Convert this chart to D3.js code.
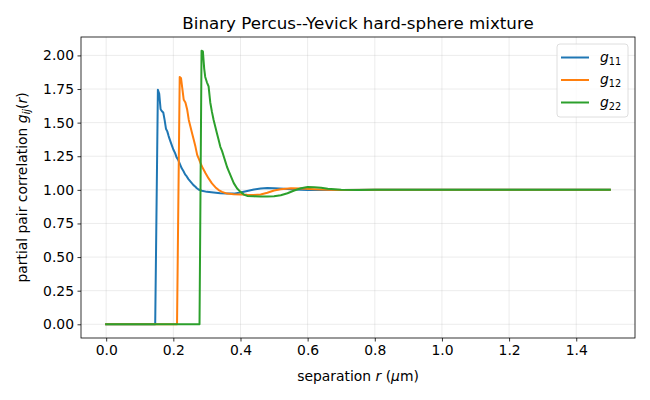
<!DOCTYPE html>
<html>
<head>
<meta charset="utf-8">
<title>Binary Percus-Yevick</title>
<script src="https://d3js.org/d3.v7.min.js"></script>
<style>
  body { margin: 0; background: #fff; }
  text { font-family: "DejaVu Sans", sans-serif; fill: #000; }
</style>
</head>
<body>
<div id="chart"></div>
<script>
// g11 (blue)
var r11 = [0, 0.146, 0.154, 0.158, 0.162, 0.166, 0.170, 0.174, 0.178, 0.182, 0.186, 0.190, 0.195, 0.200, 0.205, 0.210, 0.215, 0.220, 0.225, 0.230, 0.235, 0.240, 0.245, 0.250, 0.255, 0.260, 0.265, 0.270, 0.275, 0.285, 0.300, 0.320, 0.340, 0.360, 0.380, 0.400, 0.420, 0.440, 0.460, 0.480, 0.500, 0.530, 0.560, 0.600, 0.650, 0.700, 0.800, 1.000, 1.200, 1.500];
var g11 = [0, 0, 1.745, 1.715, 1.600, 1.585, 1.575, 1.520, 1.455, 1.435, 1.400, 1.370, 1.335, 1.300, 1.275, 1.240, 1.220, 1.190, 1.160, 1.140, 1.115, 1.100, 1.080, 1.065, 1.050, 1.035, 1.025, 1.012, 1.003, 0.993, 0.985, 0.980, 0.975, 0.972, 0.972, 0.980, 0.992, 1.003, 1.010, 1.013, 1.012, 1.008, 1.003, 0.999, 0.998, 0.999, 1.000, 1.000, 1.000, 1.000];

// g12 (orange)
var r12 = [0, 0.211, 0.219, 0.223, 0.227, 0.231, 0.236, 0.241, 0.246, 0.251, 0.256, 0.261, 0.266, 0.271, 0.276, 0.281, 0.288, 0.296, 0.305, 0.315, 0.325, 0.335, 0.345, 0.360, 0.380, 0.400, 0.420, 0.440, 0.460, 0.480, 0.500, 0.520, 0.550, 0.580, 0.620, 0.660, 0.700, 0.800, 1.000, 1.200, 1.500];
var g12 = [0, 0, 1.840, 1.830, 1.750, 1.670, 1.650, 1.600, 1.520, 1.470, 1.420, 1.370, 1.320, 1.260, 1.230, 1.198, 1.160, 1.123, 1.085, 1.048, 1.020, 0.998, 0.985, 0.972, 0.968, 0.966, 0.963, 0.962, 0.965, 0.978, 0.995, 1.005, 1.012, 1.010, 1.005, 1.001, 0.999, 1.000, 1.000, 1.000, 1.000];

// g22 (green)
var r22 = [0, 0.278, 0.284, 0.288, 0.292, 0.295, 0.300, 0.305, 0.310, 0.315, 0.320, 0.325, 0.330, 0.335, 0.340, 0.345, 0.350, 0.355, 0.360, 0.365, 0.370, 0.375, 0.380, 0.390, 0.400, 0.410, 0.420, 0.440, 0.460, 0.480, 0.500, 0.520, 0.540, 0.560, 0.580, 0.600, 0.620, 0.640, 0.660, 0.700, 0.750, 0.800, 1.000, 1.200, 1.500];
var g22 = [0, 0, 2.035, 2.030, 1.900, 1.840, 1.800, 1.770, 1.650, 1.580, 1.520, 1.470, 1.420, 1.370, 1.320, 1.290, 1.250, 1.210, 1.170, 1.140, 1.110, 1.080, 1.050, 1.010, 0.985, 0.965, 0.955, 0.952, 0.950, 0.950, 0.952, 0.960, 0.975, 0.995, 1.012, 1.022, 1.020, 1.015, 1.008, 1.001, 0.999, 1.000, 1.000, 1.000, 1.000];

var xTicks = [0, 0.2, 0.4, 0.6, 0.8, 1.0, 1.2, 1.4];
var yTicks = [0, 0.25, 0.5, 0.75, 1.0, 1.25, 1.5, 1.75, 2.0];
var seriesNames = ["11", "12", "22"];
var colors = ["#1f77b4", "#ff7f0e", "#2ca02c"];

var W = 650, H = 400;
var margin = {top: 37, right: 15, bottom: 62, left: 81};
var width = W - margin.left - margin.right,
    height = H - margin.top - margin.bottom;

var svg = d3.select("#chart").append("svg")
    .attr("width", W).attr("height", H);

var g = svg.append("g")
    .attr("transform", "translate(" + margin.left + "," + margin.top + ")");

var x = d3.scaleLinear().domain([-0.075, 1.575]).range([0, width]);
var y = d3.scaleLinear().domain([-0.102, 2.137]).range([height, 0]);

// grid
g.append("g").selectAll("line").data(xTicks).enter().append("line")
    .attr("x1", d => x(d)).attr("x2", d => x(d))
    .attr("y1", 0).attr("y2", height)
    .style("stroke", "#b0b0b0").style("stroke-opacity", 0.3).style("stroke-width", 0.8);
g.append("g").selectAll("line").data(yTicks).enter().append("line")
    .attr("y1", d => y(d)).attr("y2", d => y(d))
    .attr("x1", 0).attr("x2", width)
    .style("stroke", "#b0b0b0").style("stroke-opacity", 0.3).style("stroke-width", 0.8);

// lines
var series = [[r11, g11], [r12, g12], [r22, g22]];
var line = d3.line().x(d => x(d[0])).y(d => y(d[1]));
series.forEach(function(s, i) {
    var pts = s[0].map((r, k) => [r, s[1][k]]);
    g.append("path").datum(pts)
        .attr("d", line)
        .style("fill", "none")
        .style("stroke", colors[i])
        .style("stroke-width", 2)
        .style("stroke-linejoin", "round")
        .style("stroke-linecap", "square");
});

// axes
var xAxis = g.append("g")
    .attr("transform", "translate(0," + height + ")")
    .call(d3.axisBottom(x).tickValues(xTicks).tickFormat(d3.format(".1f")).tickSize(3.5).tickPadding(3.5));
var yAxis = g.append("g")
    .call(d3.axisLeft(y).tickValues(yTicks).tickFormat(d3.format(".2f")).tickSize(3.5).tickPadding(3.5));
[xAxis, yAxis].forEach(function(a) {
    a.select(".domain").remove();
    a.selectAll("line").style("stroke", "#000").style("stroke-width", 0.8);
    a.selectAll("text").style("font-size", "13.9px").style("font-family", "DejaVu Sans");
});

// frame
g.append("rect").attr("width", width).attr("height", height)
    .style("fill", "none").style("stroke", "#000").style("stroke-width", 0.8);

// title
svg.append("text")
    .attr("x", margin.left + width / 2).attr("y", 29)
    .attr("text-anchor", "middle")
    .style("font-size", "16.7px")
    .text("Binary Percus--Yevick hard-sphere mixture");

// x label
var xl = svg.append("text")
    .attr("x", margin.left + width / 2).attr("y", 381)
    .attr("text-anchor", "middle")
    .style("font-size", "13.9px");
xl.append("tspan").text("separation ");
xl.append("tspan").style("font-style", "italic").text("r");
xl.append("tspan").text(" (");
xl.append("tspan").style("font-style", "italic").text("\u03bc");
xl.append("tspan").text("m)");

// y label
var yl = svg.append("text")
    .attr("transform", "translate(27," + (margin.top + height / 2) + ") rotate(-90)")
    .attr("text-anchor", "middle")
    .style("font-size", "13.9px");
yl.append("tspan").text("partial pair correlation ");
yl.append("tspan").style("font-style", "italic").text("g");
yl.append("tspan").style("font-style", "italic").style("font-size", "9.7px").attr("dy", 3).text("ij");
yl.append("tspan").attr("dy", -3).text("(");
yl.append("tspan").style("font-style", "italic").text("r");
yl.append("tspan").text(")");

// legend
var lg = svg.append("g").attr("transform", "translate(557,44)");
lg.append("rect").attr("width", 71).attr("height", 73).attr("rx", 3)
    .style("fill", "#fff").style("fill-opacity", 0.8)
    .style("stroke", "#d6d6d6").style("stroke-width", 0.8);
seriesNames.forEach(function(n, i) {
    var yy = 13.5 + i * 22.5;
    lg.append("line").attr("x1", 4).attr("x2", 32).attr("y1", yy).attr("y2", yy)
        .style("stroke", colors[i]).style("stroke-width", 2);
    var t = lg.append("text").attr("x", 43).attr("y", yy + 4).style("font-size", "13.9px");
    t.append("tspan").style("font-style", "italic").text("g");
    t.append("tspan").attr("dy", 3).style("font-size", "9.7px").text(n);
});
</script>
</body>
</html>
